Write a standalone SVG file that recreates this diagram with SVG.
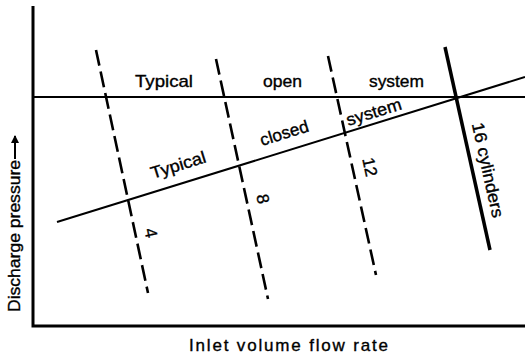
<svg xmlns="http://www.w3.org/2000/svg" width="525" height="357" viewBox="0 0 525 357">
<style>
text{font-family:"Liberation Sans",Arial,sans-serif;font-size:17px;fill:#000;stroke:#000;stroke-width:0.35}
.ax{stroke:#000;stroke-width:3;fill:none}
.ln{stroke:#000;stroke-width:2;fill:none}
.dash{stroke:#000;stroke-width:2.6;fill:none;stroke-dasharray:16 6}
.thick{stroke:#000;stroke-width:3.5;fill:none}
</style>
<defs>
<marker id="ah" markerWidth="8" markerHeight="8" refX="7" refY="4" orient="auto" markerUnits="userSpaceOnUse">
<path d="M0,0 L8,4 L0,8 Z" fill="#000"/>
</marker>
</defs>
<g id="axes">
<path class="ax" d="M33,6 L33,326 L525,326"/>
<text transform="translate(20,312) rotate(-90)" textLength="152" lengthAdjust="spacingAndGlyphs">Discharge pressure</text>
<path d="M15,159 L15,136" stroke="#000" stroke-width="2" marker-end="url(#ah)"/>
<text x="189" y="351" textLength="199" lengthAdjust="spacing">Inlet volume flow rate</text>
</g>
<g id="connectors">
<path id="open-line" class="ln" d="M33,97 L525,97"/>
<path id="closed-line" class="ln" d="M57,222 L525,77"/>
<path id="cyl4" class="dash" d="M96,50 L148,293"/>
<path id="cyl8" class="dash" d="M216,59 L268,299"/>
<path id="cyl12" class="dash" d="M328,56 L376,275"/>
<path id="cyl16" class="thick" d="M445,47 L490,250"/>
</g>
<g id="open-system-label">
<text x="135" y="87" textLength="58" lengthAdjust="spacingAndGlyphs">Typical</text>
<text x="263" y="87" textLength="39" lengthAdjust="spacingAndGlyphs">open</text>
<text x="369" y="87" textLength="55" lengthAdjust="spacingAndGlyphs">system</text>
</g>
<g id="closed-system-label">
<text transform="translate(180,170.5) rotate(-17.2)" text-anchor="middle" textLength="57" lengthAdjust="spacingAndGlyphs">Typical</text>
<text transform="translate(286,138.5) rotate(-17.2)" text-anchor="middle" textLength="50" lengthAdjust="spacingAndGlyphs">closed</text>
<text transform="translate(375.5,117.5) rotate(-17.2)" text-anchor="middle" textLength="57" lengthAdjust="spacingAndGlyphs">system</text>
</g>
<g id="label-4"><text transform="translate(151,233) rotate(78)" text-anchor="middle" dy="0.35em">4</text></g>
<g id="label-8"><text transform="translate(263,199) rotate(78)" text-anchor="middle" dy="0.35em">8</text></g>
<g id="label-12"><text transform="translate(370,167) rotate(78)" text-anchor="middle" dy="0.35em">12</text></g>
<g id="label-16"><text transform="translate(488,170) rotate(77.5)" text-anchor="middle" dy="0.35em" textLength="97" lengthAdjust="spacingAndGlyphs">16 cylinders</text></g>
</svg>
